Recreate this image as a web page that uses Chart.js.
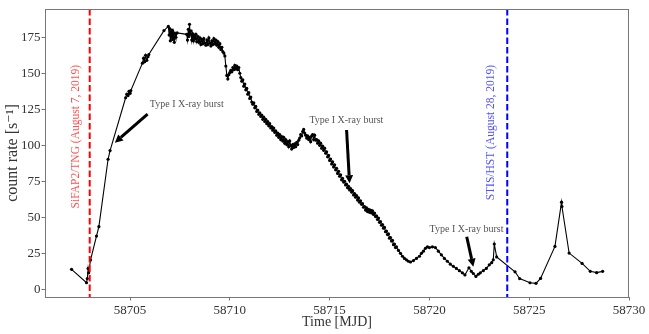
<!DOCTYPE html>
<html>
<head>
<meta charset="utf-8">
<script src="https://cdn.jsdelivr.net/npm/chart.js@4.4.1/dist/chart.umd.min.js"></script>
<style>
html, body { margin: 0; padding: 0; background: #fff; }
#wrap { width: 649px; height: 334px; }
</style>
</head>
<body>
<div id="wrap"><canvas id="myChart"></canvas></div>
<script>
// light curve
var mjd = [
  58702.07, 58702.82, 58702.86, 58702.90, 58702.93, 58703.02, 58703.32, 58703.44, 58703.90, 58704.00,
  58704.78, 58704.84, 58704.90, 58704.95, 58705.00, 58705.04,
  58705.62, 58705.68, 58705.73, 58705.78, 58705.84, 58705.90, 58705.94, 58706.70,
  58706.92, 58706.96, 58706.99, 58707.02, 58707.05, 58707.08, 58707.11, 58707.14, 58707.18, 58707.22, 58707.26, 58707.30, 58707.36,
  58707.84, 58707.88, 58707.92, 58707.95, 58707.98, 58708.01, 58708.05, 58708.09, 58708.13, 58708.17, 58708.21, 58708.25, 58708.30,
  58708.35, 58708.40, 58708.45, 58708.50, 58708.55, 58708.60, 58708.65, 58708.70, 58708.75, 58708.80, 58708.85, 58708.90, 58708.95,
  58709.00, 58709.05, 58709.10, 58709.15, 58709.20, 58709.25, 58709.30, 58709.35, 58709.40, 58709.45, 58709.50, 58709.55, 58709.60,
  58709.65, 58709.70, 58709.75, 58709.80, 58709.85, 58709.90, 58709.95,
  58710.00, 58710.05, 58710.10, 58710.15, 58710.20, 58710.25, 58710.30, 58710.35, 58710.40, 58710.45, 58710.50, 58710.55, 58710.60,
  58710.65, 58710.70, 58710.75, 58710.80, 58710.85, 58710.90, 58710.95,
  58711.00, 58711.05, 58711.10, 58711.15, 58711.20, 58711.25, 58711.30, 58711.35, 58711.40, 58711.45, 58711.50, 58711.55, 58711.60,
  58711.65, 58711.70, 58711.75, 58711.80, 58711.85, 58711.90, 58711.95,
  58712.00, 58712.05, 58712.10, 58712.15, 58712.20, 58712.25, 58712.30, 58712.35, 58712.40, 58712.45, 58712.50, 58712.55, 58712.60,
  58712.65, 58712.70, 58712.75, 58712.80, 58712.85, 58712.90, 58712.95,
  58713.00, 58713.05, 58713.10, 58713.15, 58713.20, 58713.25, 58713.30, 58713.35, 58713.40, 58713.45, 58713.50, 58713.55, 58713.60,
  58713.65, 58713.70, 58713.75, 58713.80, 58713.85, 58713.90, 58713.95,
  58714.00, 58714.05, 58714.10, 58714.15, 58714.20, 58714.25, 58714.30, 58714.35, 58714.40, 58714.45, 58714.50, 58714.55, 58714.60,
  58714.65, 58714.70, 58714.75, 58714.80, 58714.85, 58714.90, 58714.95,
  58715.00, 58715.05, 58715.10, 58715.15, 58715.20, 58715.25, 58715.30, 58715.35, 58715.40, 58715.45, 58715.50, 58715.55, 58715.60,
  58715.65, 58715.70, 58715.75, 58715.80, 58715.85, 58715.90, 58715.95,
  58716.00, 58716.05, 58716.10, 58716.15, 58716.20, 58716.25, 58716.30, 58716.35, 58716.40, 58716.45, 58716.50, 58716.55, 58716.60,
  58716.65, 58716.70, 58716.75, 58716.80, 58716.85, 58716.90, 58716.95,
  58717.00, 58717.05, 58717.10, 58717.15, 58717.20, 58717.25, 58717.30, 58717.35, 58717.40, 58717.45, 58717.50, 58717.55, 58717.60,
  58717.65, 58717.70, 58717.75, 58717.80, 58717.85, 58717.90, 58717.95,
  58718.00, 58718.05, 58718.10, 58718.15, 58718.20, 58718.25, 58718.30, 58718.35, 58718.45, 58718.55, 58718.65, 58718.75, 58718.85, 58718.95,
  58719.05, 58719.20, 58719.35, 58719.50, 58719.60, 58719.70, 58719.80, 58719.90,
  58720.00, 58720.15, 58720.30, 58720.45, 58720.60, 58720.75, 58720.90,
  58721.05, 58721.20, 58721.35, 58721.50, 58721.65, 58721.78, 58721.98,
  58722.10, 58722.20, 58722.33, 58722.45, 58722.55, 58722.70, 58722.85,
  58723.00, 58723.12, 58723.20, 58723.25, 58723.37, 58724.29, 58724.52,
  58725.04, 58725.34, 58725.57, 58726.29, 58726.62, 58726.64, 58727.00, 58727.65, 58728.06, 58728.38, 58728.68
];
var rate = [
  13.9, 4.6, 7.5, 14.5, 11.5, 20.3, 37.0, 43.5, 90.3, 96.3,
  133.0, 135.5, 134.5, 137.5, 136.0, 138.0,
  157.0, 160.5, 158.0, 162.5, 159.0, 161.5, 163.0, 179.6,
  182.5, 176.5, 181.0, 172.5, 179.0, 175.0, 180.0, 173.5, 178.0, 171.5, 177.5, 175.0, 178.0,
  177.0, 173.0, 180.5, 175.5, 184.0, 177.0, 179.5, 173.0, 177.5, 172.5, 176.5, 174.0, 177.0,
  172.0, 175.5, 171.5, 174.5, 170.0, 173.5, 170.5, 174.0, 171.0, 169.5, 173.0, 170.0, 174.5,
  171.0, 169.0, 172.5, 170.0, 174.0, 170.5, 173.0, 169.5, 172.0, 168.0, 170.5, 166.5, 168.0,
  165.0, 164.0, 162.0, 155.0, 148.5, 146.0, 149.0,
  150.5, 152.0, 151.0, 154.0, 152.5, 155.5, 153.0, 155.0, 152.5, 154.0, 150.0, 147.0, 144.5,
  145.5, 141.0, 142.5, 138.5, 139.5, 135.5, 136.5,
  132.5, 133.5, 130.0, 128.5, 129.5, 126.0, 127.0, 123.5, 124.5, 121.5, 122.5, 120.0, 121.0,
  118.0, 119.5, 116.5, 118.0, 115.0, 116.5, 113.5,
  115.0, 112.0, 113.0, 110.5, 112.0, 109.0, 110.0, 107.0, 108.5, 105.5, 107.5, 104.0, 106.0,
  103.0, 105.5, 101.5, 104.0, 100.5, 102.5, 99.0,
  103.0, 100.0, 97.5, 100.5, 98.5, 101.0, 99.0, 102.0, 100.5, 103.5, 105.0, 107.5, 106.5,
  109.5, 111.0, 108.5, 107.0, 105.0, 106.5, 104.0,
  105.5, 102.5, 106.5, 107.5, 104.0, 107.0, 103.5, 104.0, 101.5, 103.0, 100.0, 101.5, 98.0,
  99.5, 96.5, 98.0, 94.5, 95.5, 92.0, 93.0,
  89.5, 90.5, 87.0, 88.5, 85.0, 86.5, 83.0, 84.0, 80.5, 82.0, 78.5, 79.5, 76.0,
  77.0, 74.5, 75.0, 72.5, 73.0, 70.5, 71.5,
  69.0, 70.0, 67.5, 68.5, 65.5, 66.5, 64.0, 65.0, 62.0, 63.5, 60.5, 61.5, 59.0,
  59.5, 57.0, 57.5, 55.0, 56.5, 54.0, 55.5,
  53.5, 55.0, 53.0, 54.5, 52.0, 53.0, 50.5, 51.0, 48.5, 49.5, 46.5, 47.0, 44.5,
  45.0, 42.5, 43.0, 40.0, 40.5, 38.0, 38.5,
  35.5, 36.0, 33.5, 34.0, 31.0, 31.5, 29.0, 29.5, 27.0, 25.0, 23.0, 21.5, 20.5, 19.5,
  19.0, 20.0, 21.5, 23.0, 25.0, 26.5, 28.5, 29.5,
  29.0, 29.5, 29.0, 26.5, 24.0, 21.5, 19.5,
  17.5, 16.0, 14.5, 13.0, 11.5, 10.0, 15.0,
  12.5, 11.0, 9.0, 10.5, 11.5, 13.0, 14.5,
  17.0, 18.5, 20.5, 31.5, 22.5, 12.2, 7.5,
  4.6, 4.2, 7.6, 29.8, 60.5, 57.5, 25.2, 18.0, 12.5, 11.6, 12.5
];

// observation epochs (MJD)
var obsMjd = [58702.98, 58723.90];
var obsLabels = ['SiFAP2/TNG (August 7, 2019)', 'STIS/HST (August 28, 2019)'];

var xTicks = [58705, 58710, 58715, 58720, 58725, 58730];
var yTicks = [0, 25, 50, 75, 100, 125, 150, 175];

// burst annotations: text at [x, y], arrow from tail to head, data units
var bursts = [
  { text: [58705.99, 128.1], align: 'left', tail: [58705.88, 121.7], head: [58704.24, 101.8] },
  { text: [58715.84, 117.1], align: 'center', tail: [58715.85, 110.6], head: [58716.00, 73.6] },
  { text: [58721.86, 41.9], align: 'center', tail: [58721.87, 36.5], head: [58722.20, 15.7] }
];

var serif = "'Liberation Serif', 'DejaVu Serif', serif";
var ctx = document.getElementById('myChart');

function arrow(c, x1, y1, x2, y2) {
  var a = Math.atan2(y2 - y1, x2 - x1);
  var hl = 8, hw = 4;
  var bx = x2 - hl * Math.cos(a), by = y2 - hl * Math.sin(a);
  c.beginPath();
  c.moveTo(x1, y1);
  c.lineTo(bx, by);
  c.lineWidth = 3;
  c.strokeStyle = '#000';
  c.stroke();
  c.beginPath();
  c.moveTo(x2, y2);
  c.lineTo(bx + hw * Math.sin(a), by - hw * Math.cos(a));
  c.lineTo(bx - hw * Math.sin(a), by + hw * Math.cos(a));
  c.closePath();
  c.fillStyle = '#000';
  c.fill();
}

var overlay = {
  id: 'overlay',
  afterDatasetsDraw: function (chart) {
    var c = chart.ctx, area = chart.chartArea;
    var xs = chart.scales.x, ys = chart.scales.y;
    var lineCol = ['#ff0000', '#0000ff'];
    var textCol = ['#ff5050', '#5050ff'];
    var textX = [58702.28, 58723.09];
    c.save();
    // observation lines
    for (var i = 0; i < obsMjd.length; i++) {
      var px = xs.getPixelForValue(obsMjd[i]);
      c.beginPath();
      c.setLineDash([6.5, 3]);
      c.lineWidth = 2;
      c.strokeStyle = lineCol[i];
      c.moveTo(px, area.top);
      c.lineTo(px, area.bottom);
      c.stroke();
      c.setLineDash([]);
      c.save();
      c.translate(xs.getPixelForValue(textX[i]), ys.getPixelForValue(155.8));
      c.rotate(-Math.PI / 2);
      c.font = '11.5px ' + serif;
      c.fillStyle = textCol[i];
      c.textAlign = 'right';
      c.textBaseline = 'middle';
      c.fillText(obsLabels[i], 0, 0);
      c.restore();
    }
    // burst arrows
    bursts.forEach(function (b) {
      arrow(c, xs.getPixelForValue(b.tail[0]), ys.getPixelForValue(b.tail[1]),
        xs.getPixelForValue(b.head[0]), ys.getPixelForValue(b.head[1]));
      c.font = '10px ' + serif;
      c.fillStyle = '#555';
      c.textAlign = b.align;
      c.textBaseline = 'middle';
      c.fillText('Type I X-ray burst', xs.getPixelForValue(b.text[0]), ys.getPixelForValue(b.text[1]));
    });
    // frame
    c.lineWidth = 1;
    c.strokeStyle = '#777';
    c.strokeRect(area.left + 0.5, area.top + 0.5, area.right - area.left - 1, area.bottom - area.top);
    c.restore();
  }
};

var data = {
  datasets: [{
    data: mjd.map(function (x, i) { return { x: x, y: rate[i] }; }),
    showLine: true,
    borderColor: '#000',
    borderWidth: 1.1,
    backgroundColor: '#000',
    pointRadius: 1.6,
    pointBorderWidth: 0,
    pointHoverRadius: 1.6
  }]
};

var options = {
  responsive: true,
  maintainAspectRatio: false,
  animation: false,
  events: [],
  layout: { padding: { top: 9, right: 20, left: 0, bottom: 0 } },
  plugins: { legend: { display: false }, tooltip: { enabled: false } },
  scales: {
    x: {
      type: 'linear',
      min: 58700.74,
      max: 58730,
      afterFit: function (s) { s.height = 37; },
      afterBuildTicks: function (s) { s.ticks = xTicks.map(function (v) { return { value: v }; }); },
      grid: { drawOnChartArea: false, tickLength: 3.5, color: '#777' },
      border: { color: '#777' },
      ticks: {
        padding: 2, maxRotation: 0, color: '#333',
        font: { family: serif, size: 13 },
        callback: function (v) { return String(v); }
      },
      title: {
        display: true, text: 'Time [MJD]', color: '#333',
        font: { family: serif, size: 14, lineHeight: 1.2 },
        padding: { top: 0, bottom: 3 }
      }
    },
    y: {
      type: 'linear',
      min: -5.3,
      max: 194.6,
      afterFit: function (s) { s.width = 45; },
      afterBuildTicks: function (s) { s.ticks = yTicks.map(function (v) { return { value: v }; }); },
      grid: { drawOnChartArea: false, tickLength: 3.5, color: '#777' },
      border: { color: '#777' },
      ticks: {
        padding: 1, color: '#333',
        font: { family: serif, size: 13 }
      },
      title: {
        display: true, text: 'count rate [s\u207B\u00B9]', color: '#333',
        font: { family: serif, size: 16, lineHeight: 1.2 },
        padding: { top: 3, bottom: 0 }
      }
    }
  }
};

var myChart = new Chart(ctx, {
  type: 'scatter',
  data: data,
  options: options,
  plugins: [overlay]
});
</script>
</body>
</html>
